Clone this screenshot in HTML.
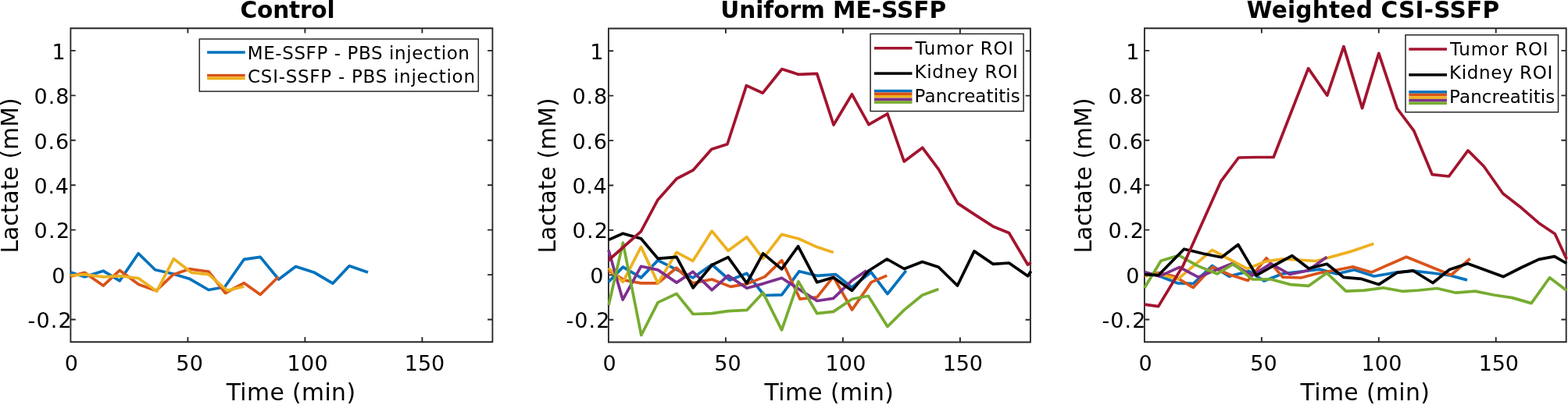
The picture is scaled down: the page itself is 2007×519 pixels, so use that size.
<!DOCTYPE html><html><head><meta charset="utf-8"><title>Lactate time curves</title>
<style>html,body{margin:0;padding:0;background:#fff;overflow:hidden}svg{display:block}text{font-family:"DejaVu Sans","Liberation Sans",sans-serif;fill:#000;white-space:pre}</style></head><body>
<svg width="2007" height="519" viewBox="0 0 2007 519">
<rect width="2007" height="519" fill="#fff"/>
<defs>
<clipPath id="c0"><rect x="87.2" y="33.0" width="546.05" height="407.9"/></clipPath>
<clipPath id="c1"><rect x="776.05" y="33.0" width="546.0" height="407.9"/></clipPath>
<clipPath id="c2"><rect x="1462.05" y="33.0" width="545.9100000000001" height="407.9"/></clipPath>
</defs>
<path d="M90.4,36.2H630.4V438.2H90.4ZM90.4,64.91h5.4M630.4,64.91h-5.4M90.4,122.34h5.4M630.4,122.34h-5.4M90.4,179.77h5.4M630.4,179.77h-5.4M90.4,237.20h5.4M630.4,237.20h-5.4M90.4,294.63h5.4M630.4,294.63h-5.4M90.4,352.06h5.4M630.4,352.06h-5.4M90.4,409.49h5.4M630.4,409.49h-5.4M90.40,438.2v-5.4M90.40,36.2v5.4M240.40,438.2v-5.4M240.40,36.2v5.4M390.40,438.2v-5.4M390.40,36.2v5.4M540.40,438.2v-5.4M540.40,36.2v5.4" fill="none" stroke="#262626" stroke-width="1.85" stroke-linecap="square"/>
<path d="M778.9,36.5H1318.9V438.5H778.9ZM778.9,65.21h5.4M1318.9,65.21h-5.4M778.9,122.64h5.4M1318.9,122.64h-5.4M778.9,180.07h5.4M1318.9,180.07h-5.4M778.9,237.50h5.4M1318.9,237.50h-5.4M778.9,294.93h5.4M1318.9,294.93h-5.4M778.9,352.36h5.4M1318.9,352.36h-5.4M778.9,409.79h5.4M1318.9,409.79h-5.4M778.90,438.5v-5.4M778.90,36.5v5.4M928.90,438.5v-5.4M928.90,36.5v5.4M1078.90,438.5v-5.4M1078.90,36.5v5.4M1228.90,438.5v-5.4M1228.90,36.5v5.4" fill="none" stroke="#262626" stroke-width="1.85" stroke-linecap="square"/>
<path d="M1464.9,36.2H2004.7V438.2H1464.9ZM1464.9,64.91h5.4M2004.7,64.91h-5.4M1464.9,122.34h5.4M2004.7,122.34h-5.4M1464.9,179.77h5.4M2004.7,179.77h-5.4M1464.9,237.20h5.4M2004.7,237.20h-5.4M1464.9,294.63h5.4M2004.7,294.63h-5.4M1464.9,352.06h5.4M2004.7,352.06h-5.4M1464.9,409.49h5.4M2004.7,409.49h-5.4M1464.90,438.2v-5.4M1464.90,36.2v5.4M1614.84,438.2v-5.4M1614.84,36.2v5.4M1764.79,438.2v-5.4M1764.79,36.2v5.4M1914.73,438.2v-5.4M1914.73,36.2v5.4" fill="none" stroke="#262626" stroke-width="1.85" stroke-linecap="square"/>
<g clip-path="url(#c0)" fill="none" stroke-width="3.7" stroke-linejoin="round" stroke-linecap="butt">
<polyline points="90.4,348.9 108.3,354.7 132.1,347.2 153.3,359.8 177.1,324.7 198.6,345.8 220.8,350.8 242.4,357.2 267.0,371.5 287.7,367.8 312.4,332.3 333.2,329.3 356.7,358.0 378.5,341.6 401.7,348.9 425.9,363.2 447.1,340.8 471.0,348.9" stroke="#0072BD"/>
<polyline points="90.4,354.2 108.3,349.3 132.1,366.1 153.3,346.4 177.5,364.4 200.0,372.4 221.6,351.9 242.4,344.7 267.0,348.0 288.5,375.5 312.4,362.7 333.2,377.5 356.3,354.7" stroke="#D95319"/>
<polyline points="90.4,353.0 108.3,351.6 132.1,354.9 153.3,353.6 177.0,356.5 200.8,373.2 222.4,331.6 245.0,349.3 267.0,351.7 290.8,372.4 312.4,367.0" stroke="#EDB120"/>
</g>
<g clip-path="url(#c1)" fill="none" stroke-width="3.7" stroke-linejoin="round" stroke-linecap="butt">
<polyline points="778.9,361.3 797.4,342.1 820.5,355.9 842.1,333.6 886.8,355.9 911.2,339.0 934.0,359.0 955.9,350.3 978.3,378.5 1000.6,377.8 1023.0,347.7 1045.8,353.3 1069.7,351.6 1090.3,368.3 1115.0,348.8 1136.0,376.6 1159.7,346.8" stroke="#0072BD"/>
<polyline points="778.9,346.7 799.0,359.0 820.5,362.9 842.1,362.9 866.0,343.3 886.8,362.9 911.2,358.0 935.1,367.4 955.9,363.9 979.0,354.6 1000.6,333.6 1024.0,383.2 1045.8,380.9 1066.7,354.6 1090.6,397.0 1115.2,361.6 1135.3,353.1" stroke="#D95319"/>
<polyline points="778.9,343.6 797.4,361.3 820.5,316.4 842.1,362.9 866.0,323.4 886.8,334.4 911.2,296.1 932.0,321.2 955.9,303.8 976.7,331.3 1000.6,300.4 1021.9,305.8 1045.8,316.6 1066.7,323.5" stroke="#EDB120"/>
<polyline points="778.9,320.5 797.1,384.1 820.5,341.3 842.1,345.9 866.0,362.1 886.8,348.2 911.2,371.6 932.0,353.1 955.9,369.3 978.3,363.1 1000.6,356.2 1045.8,385.5 1066.7,382.4 1090.6,359.3 1109.1,346.9" stroke="#7E2F8E"/>
<polyline points="779.1,391.0 797.4,311.2 820.8,429.5 842.1,387.7 865.9,376.3 887.1,402.5 911.2,401.7 932.0,398.6 955.9,397.4 976.7,375.2 1000.6,422.8 1021.9,360.8 1045.8,401.7 1066.7,399.4 1090.6,383.2 1111.4,379.3 1136.0,418.5 1157.4,397.1 1180.5,378.2 1201.3,370.5" stroke="#77AC30"/>
<polyline points="778.9,307.4 797.3,299.2 820.5,305.7 842.1,331.4 866.0,329.4 887.1,368.9 911.2,339.7 932.0,329.7 955.9,363.0 976.7,324.8 1000.6,344.8 1021.6,315.6 1045.8,361.8 1066.7,355.5 1090.6,372.4 1111.4,347.2 1135.3,332.0 1157.4,344.5 1180.5,335.6 1201.3,342.2 1225.5,366.0 1247.0,321.9 1271.2,338.4 1291.5,337.0 1315.6,353.8 1319.6,347.4" stroke="#000000"/>
<polyline points="778.9,333.5 820.4,296.7 841.7,256.5 866.1,229.0 887.0,218.2 910.8,191.2 931.0,184.8 955.4,109.6 976.3,119.2 1000.8,88.5 1022.2,95.4 1045.7,94.4 1067.0,160.0 1090.5,120.8 1112.0,159.7 1135.9,145.8 1157.2,206.9 1180.8,189.3 1201.5,217.1 1225.9,260.6 1248.2,275.4 1271.2,290.2 1291.5,298.5 1315.6,339.2 1319.6,336.3" stroke="#A2142F"/>
</g>
<g clip-path="url(#c2)" fill="none" stroke-width="3.7" stroke-linejoin="round" stroke-linecap="butt">
<polyline points="1464.8,349.1 1483.5,353.5 1507.0,362.8 1527.4,363.5 1551.5,340.5 1573.2,354.1 1599.0,347.5 1617.9,360.0 1642.5,350.6 1665.0,348.0 1688.9,345.1 1711.0,351.0 1733.4,345.8 1758.8,354.0 1788.5,348.9 1808.6,347.2 1834.0,350.0 1856.0,353.0 1877.9,358.9" stroke="#0072BD"/>
<polyline points="1464.8,353.8 1482.7,349.5 1503.0,354.0 1527.3,368.5 1551.8,342.3 1574.0,352.0 1597.4,359.4 1620.9,330.8 1642.0,355.2 1665.0,356.0 1688.0,350.0 1711.0,346.0 1732.0,341.9 1755.6,348.9 1800.1,329.2 1857.4,352.5 1881.7,331.3" stroke="#D95319"/>
<polyline points="1464.8,353.0 1483.0,351.0 1507.5,357.8 1551.6,320.4 1573.0,332.0 1596.5,344.4 1620.0,335.0 1642.4,331.9 1684.7,334.5 1727.0,322.9 1758.4,312.3" stroke="#EDB120"/>
<polyline points="1464.8,348.4 1483.8,354.1 1509.9,342.4 1533.7,355.2 1576.5,337.9 1602.8,353.0 1626.6,337.9 1650.8,351.5 1674.1,346.8 1698.4,329.2" stroke="#7E2F8E"/>
<polyline points="1464.8,369.0 1486.0,334.2 1509.0,327.2 1532.3,340.4 1558.1,351.0 1578.8,338.2 1603.3,358.0 1626.2,357.8 1651.8,364.6 1675.1,366.3 1698.4,349.8 1722.8,373.1 1746.1,372.2 1770.5,368.8 1794.8,373.3 1816.0,372.0 1839.3,369.5 1863.7,375.2 1888.1,373.1 1912.0,378.0 1935.8,381.6 1960.1,388.6 1983.5,355.7 2005.2,372.3" stroke="#77AC30"/>
<polyline points="1464.8,351.7 1482.7,352.7 1515.6,319.2 1540.0,325.0 1563.6,329.7 1584.8,313.4 1608.1,353.0 1631.0,340.0 1653.9,327.7 1675.1,344.0 1698.4,338.3 1719.6,355.3 1742.9,357.4 1764.7,364.6 1788.5,349.3 1808.6,346.8 1834.0,362.5 1855.2,345.5 1878.5,337.7 1901.0,346.0 1924.1,354.6 1947.0,343.0 1969.7,332.4 1989.8,328.6 2005.2,337.5" stroke="#000000"/>
<polyline points="1464.8,390.2 1482.7,392.6 1514.5,340.0 1562.7,232.4 1585.4,202.0 1607.5,201.5 1630.1,201.5 1674.6,87.6 1698.7,122.3 1719.9,59.6 1743.6,138.6 1764.8,68.3 1788.3,139.0 1809.6,167.3 1833.2,223.7 1854.5,226.0 1879.0,192.9 1899.2,213.0 1923.7,248.0 1945.3,264.7 1969.5,285.7 1990.3,299.8 2005.2,332.0" stroke="#A2142F"/>
</g>
<rect x="255.3" y="50" width="356.99999999999994" height="67.1" fill="#fff" stroke="#262626" stroke-width="1.5"/>
<rect x="265.1" y="65.3" width="48.6" height="3.5" fill="#0072BD"/>
<rect x="265.1" y="94.9" width="48.6" height="3.4" fill="#D95319"/>
<rect x="265.1" y="98.3" width="48.6" height="4.0" fill="#EDB120"/>
<rect x="1114.1" y="43.4" width="196.0" height="99.1" fill="#fff" stroke="#262626" stroke-width="1.5"/>
<rect x="1119" y="60.00" width="48.5" height="3.5" fill="#A2142F"/>
<rect x="1119" y="92.35" width="48.5" height="3.5" fill="#000"/>
<rect x="1119" y="114.80" width="48.5" height="3.62" fill="#0072BD"/>
<rect x="1119" y="118.40" width="48.5" height="3.62" fill="#D95319"/>
<rect x="1119" y="122.00" width="48.5" height="3.62" fill="#EDB120"/>
<rect x="1119" y="125.60" width="48.5" height="3.62" fill="#7E2F8E"/>
<rect x="1119" y="129.20" width="48.5" height="3.62" fill="#77AC30"/>
<rect x="1799" y="44.8" width="195.5" height="98.9" fill="#fff" stroke="#262626" stroke-width="1.5"/>
<rect x="1803.3" y="61.25" width="48.7" height="3.5" fill="#A2142F"/>
<rect x="1803.3" y="94.15" width="48.7" height="3.5" fill="#000"/>
<rect x="1803.3" y="116.10" width="48.7" height="3.62" fill="#0072BD"/>
<rect x="1803.3" y="119.70" width="48.7" height="3.62" fill="#D95319"/>
<rect x="1803.3" y="123.30" width="48.7" height="3.62" fill="#EDB120"/>
<rect x="1803.3" y="126.90" width="48.7" height="3.62" fill="#7E2F8E"/>
<rect x="1803.3" y="130.50" width="48.7" height="3.62" fill="#77AC30"/>
<text x="66.50" y="75.71" font-size="27.0">1</text>
<text x="43.55" y="133.12" font-size="27.0" letter-spacing="0.975">0.8</text>
<text x="43.55" y="190.54" font-size="27.0" letter-spacing="0.850">0.6</text>
<text x="43.55" y="247.95" font-size="27.0" letter-spacing="0.725">0.4</text>
<text x="43.55" y="305.36" font-size="27.0" letter-spacing="1.350">0.2</text>
<text x="66.35" y="362.78" font-size="27.0">0</text>
<text x="35.55" y="420.19" font-size="27.0" letter-spacing="1.150">-0.2</text>
<text x="82.65" y="474.90" font-size="27.0">0</text>
<text x="225.30" y="474.90" font-size="27.0" letter-spacing="0.300">50</text>
<text x="367.60" y="474.90" font-size="27.0" letter-spacing="0.225">100</text>
<text x="517.80" y="474.90" font-size="27.0" letter-spacing="-0.075">150</text>
<text x="289.70" y="512.80" font-size="29.8" letter-spacing="0.389">Time (min)</text>
<text transform="rotate(-90)" x="-324.60" y="22.60" font-size="29.8" letter-spacing="0.045">Lactate (mM)</text>
<text x="755.35" y="75.71" font-size="27.0">1</text>
<text x="732.40" y="133.12" font-size="27.0" letter-spacing="0.975">0.8</text>
<text x="732.40" y="190.54" font-size="27.0" letter-spacing="0.850">0.6</text>
<text x="732.40" y="247.95" font-size="27.0" letter-spacing="0.725">0.4</text>
<text x="732.40" y="305.36" font-size="27.0" letter-spacing="1.350">0.2</text>
<text x="755.20" y="362.78" font-size="27.0">0</text>
<text x="724.40" y="420.19" font-size="27.0" letter-spacing="1.150">-0.2</text>
<text x="771.50" y="474.90" font-size="27.0">0</text>
<text x="914.15" y="474.90" font-size="27.0" letter-spacing="0.300">50</text>
<text x="1056.45" y="474.90" font-size="27.0" letter-spacing="0.225">100</text>
<text x="1206.65" y="474.90" font-size="27.0" letter-spacing="-0.075">150</text>
<text x="978.55" y="512.80" font-size="29.8" letter-spacing="0.389">Time (min)</text>
<text transform="rotate(-90)" x="-324.60" y="711.45" font-size="29.8" letter-spacing="0.045">Lactate (mM)</text>
<text x="1441.35" y="75.71" font-size="27.0">1</text>
<text x="1418.40" y="133.12" font-size="27.0" letter-spacing="0.975">0.8</text>
<text x="1418.40" y="190.54" font-size="27.0" letter-spacing="0.850">0.6</text>
<text x="1418.40" y="247.95" font-size="27.0" letter-spacing="0.725">0.4</text>
<text x="1418.40" y="305.36" font-size="27.0" letter-spacing="1.350">0.2</text>
<text x="1441.20" y="362.78" font-size="27.0">0</text>
<text x="1410.40" y="420.19" font-size="27.0" letter-spacing="1.150">-0.2</text>
<text x="1457.50" y="474.90" font-size="27.0">0</text>
<text x="1600.15" y="474.90" font-size="27.0" letter-spacing="0.300">50</text>
<text x="1742.45" y="474.90" font-size="27.0" letter-spacing="0.225">100</text>
<text x="1892.65" y="474.90" font-size="27.0" letter-spacing="-0.075">150</text>
<text x="1664.55" y="512.80" font-size="29.8" letter-spacing="0.389">Time (min)</text>
<text transform="rotate(-90)" x="-324.60" y="1397.45" font-size="29.8" letter-spacing="0.045">Lactate (mM)</text>
<text x="307.50" y="22.80" font-size="29.6" font-weight="bold" letter-spacing="-0.208">Control</text>
<text x="922.15" y="22.80" font-size="29.6" font-weight="bold" letter-spacing="-0.025">Uniform ME-SSFP</text>
<text x="1595.85" y="22.80" font-size="29.6" font-weight="bold" letter-spacing="0.216">Weighted CSI-SSFP</text>
<text x="316.80" y="75.70" font-size="23.0" letter-spacing="0.584">ME-SSFP - PBS injection</text>
<text x="317.05" y="106.40" font-size="23.0" letter-spacing="0.722">CSI-SSFP - PBS injection</text>
<text x="1171.40" y="69.60" font-size="23.0" letter-spacing="0.812">Tumor ROI</text>
<text x="1170.55" y="100.10" font-size="23.0" letter-spacing="0.622">Kidney ROI</text>
<text x="1170.55" y="130.90" font-size="23.0" letter-spacing="0.095">Pancreatitis</text>
<text x="1855.90" y="70.50" font-size="23.0" letter-spacing="0.812">Tumor ROI</text>
<text x="1855.05" y="101.00" font-size="23.0" letter-spacing="0.622">Kidney ROI</text>
<text x="1855.05" y="131.80" font-size="23.0" letter-spacing="0.095">Pancreatitis</text>
</svg></body></html>
